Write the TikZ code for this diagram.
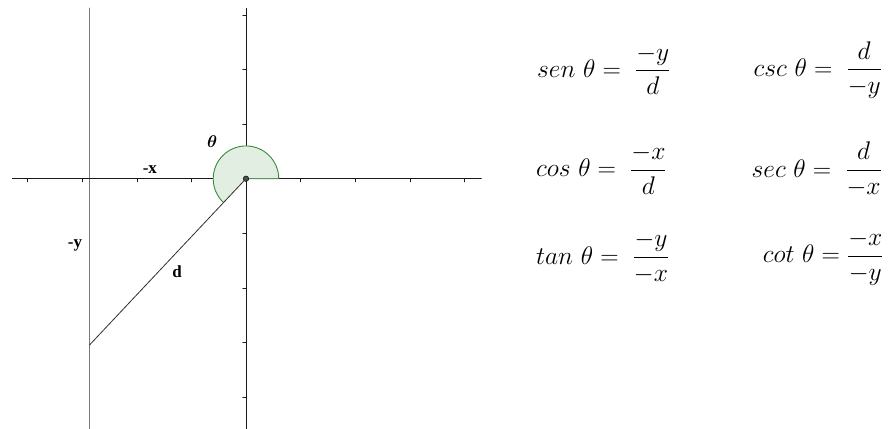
\RequirePackage{fix-cm}
\documentclass[tikz,border=0pt]{standalone}
\usepackage{amsmath}
\usepackage{fontspec}
\newfontfamily\labelfont{Liberation Serif}
\usetikzlibrary{positioning}
\definecolor{AxisInk}{HTML}{1A1A1A}
\definecolor{GuideGray}{HTML}{7A7A7A}
\definecolor{SideInk}{HTML}{2E2E2E}
\definecolor{AngleGreen}{HTML}{3A8A3A}
\definecolor{AngleFill}{HTML}{E2EEE2}
\tikzset{
  axislabel/.style={font=\labelfont\bfseries\fontsize{17}{20}\selectfont,inner sep=0pt},
  ratio/.style={font=\fontsize{25.5}{30}\selectfont,inner sep=0pt},
}

\begin{document}
\begin{tikzpicture}[x=54.6pt,y=54.6pt,line cap=round,line join=round]
  \useasboundingbox (-4.505,-4.584) rectangle (11.795,3.273);
  \coordinate (O) at (0,0);
  \coordinate (P) at (-2.866,-3.046);
  % guide line through P
  \draw[GuideGray,line width=1.6pt] (-2.866,3.12) -- (-2.866,-4.584);
  % axes and ticks
  \draw[AxisInk,line width=0.8pt] (-4.28,0) -- (4.31,0);
  \draw[AxisInk,line width=0.8pt] (0,3.12) -- (0,-4.584);
  \foreach \t in {-4,-3,-2,-1,1,2,3,4}{
    \draw[AxisInk,line width=0.5pt] (\t,0) -- (\t,-0.06);
  }
  \foreach \t in {-4,-3,-2,-1,1,2,3}{
    \draw[AxisInk,line width=0.5pt] (0,\t) -- (-0.06,\t);
  }
  % angle theta
  \path[fill=AngleFill] (O) -- (0.6,0) arc (0:226.7:0.6) -- cycle;
  \draw[AngleGreen,line width=0.9pt] (O) -- (0.6,0) arc (0:226.7:0.6);
  % hypotenuse
  \draw[SideInk,line width=0.8pt] (O) -- (P);
  \fill[SideInk!85] (O) circle (2.8pt);
  \draw[black,line width=0.4pt] (O) circle (2.8pt);
  % labels
  \node[axislabel] (theta) at (-0.62,0.68) {$\boldsymbol{\theta}$};
  \node[axislabel] (negx) at (-1.76,0.16) {-x};
  \node[axislabel] (negy) at (-3.13,-1.23) {-y};
  \node[axislabel] (hyp) at (-1.26,-1.70) {d};
  % ratios
  \node[ratio,anchor=west] (sen) at (5.33,1.99) {$sen\ \theta =\; \dfrac{-y}{d}$};
  \node[ratio,anchor=west] (cos) at (5.31,0.17) {$cos\ \theta =\; \dfrac{-x}{d}$};
  \node[ratio,anchor=west] (tan) at (5.31,-1.45) {$tan\ \theta =\; \dfrac{-y}{-x}$};
  \node[ratio,anchor=east] (csc) at (11.65,1.99) {$csc\ \theta =\; \dfrac{d}{-y}$};
  \node[ratio,anchor=east] (sec) at (11.65,0.17) {$sec\ \theta =\; \dfrac{d}{-x}$};
  \node[ratio,anchor=east] (cot) at (11.68,-1.45) {$cot\ \theta = \dfrac{-x}{-y}$};
\end{tikzpicture}
\end{document}
